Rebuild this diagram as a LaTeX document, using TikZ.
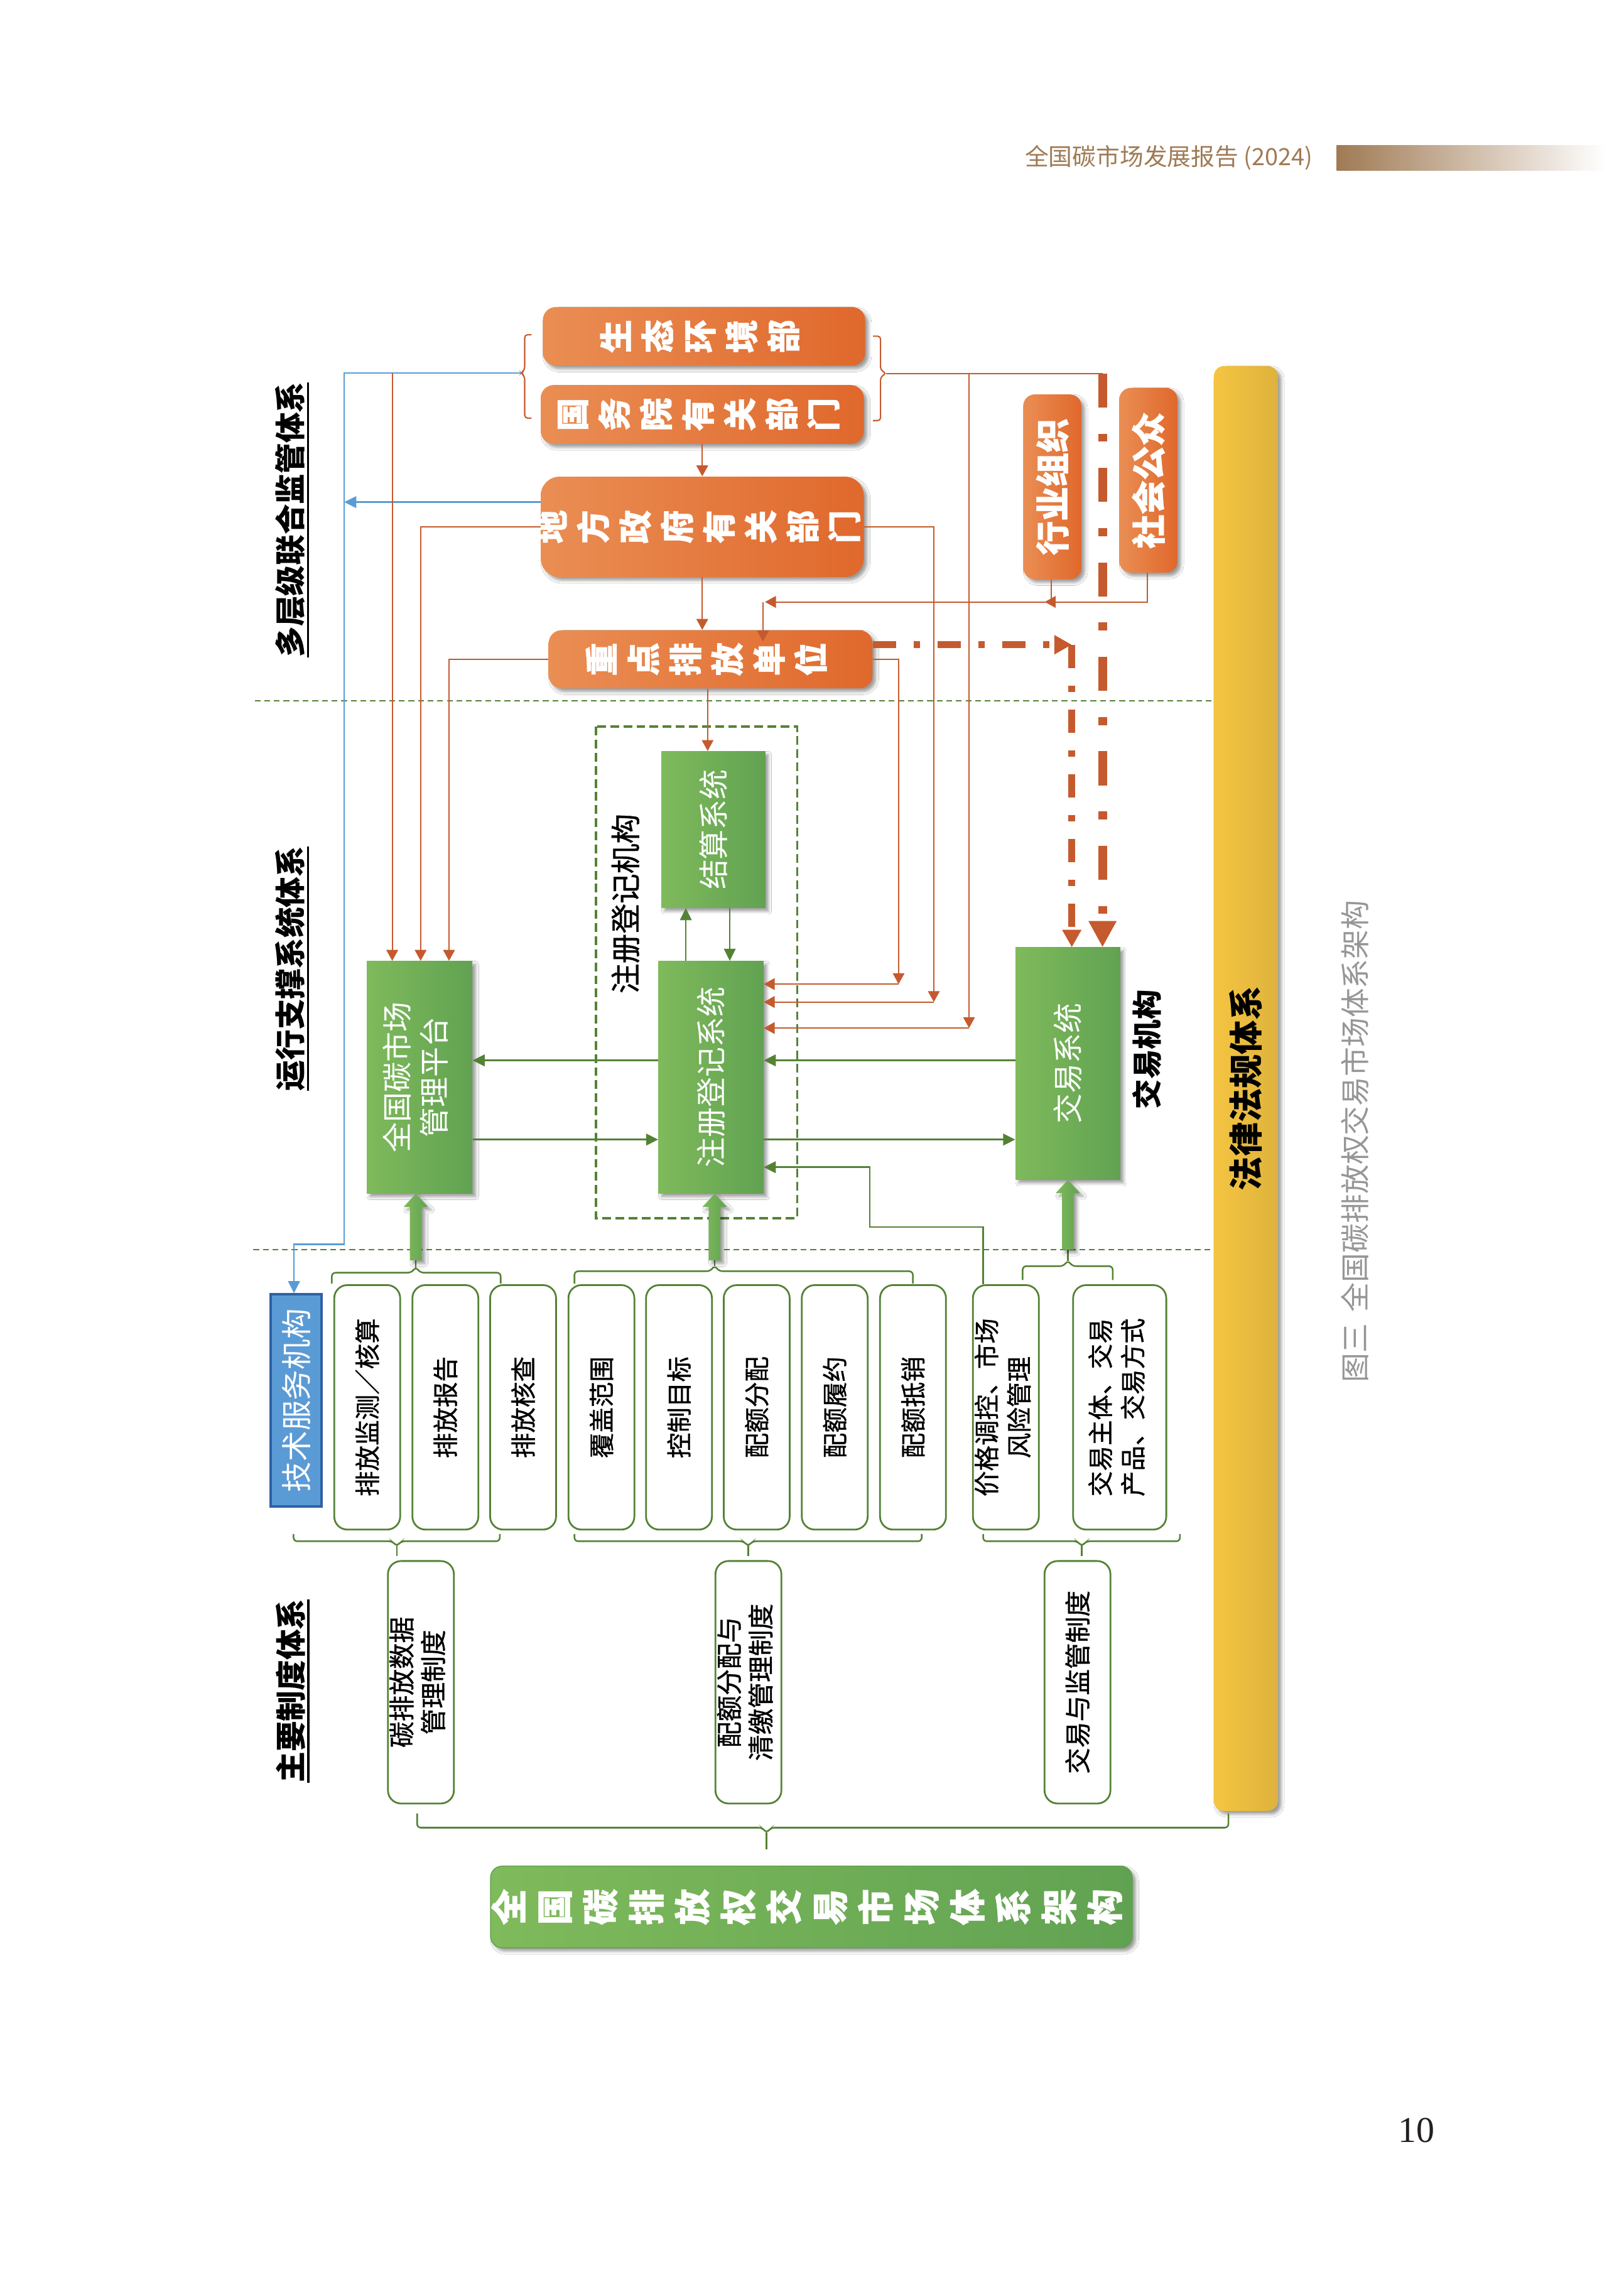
\documentclass[tikz,border=0pt]{standalone}
\usepackage{fontspec}
\usepackage{graphicx}
\newfontfamily\cjk{Noto Sans CJK SC}
\newfontfamily\cjkm[FakeBold=0.9]{Noto Sans CJK SC}
\newfontfamily\cjkh[BoldFeatures={FakeBold=0.8}]{Noto Sans CJK SC}
\newfontfamily\numf{Liberation Serif}
\usetikzlibrary{arrows.meta,shadows.blur,calc}
\definecolor{cOL}{RGB}{234,142,84}
\definecolor{cOD}{RGB}{224,104,44}
\definecolor{cO}{RGB}{197,90,46}
\definecolor{cGL}{RGB}{127,186,91}
\definecolor{cGD}{RGB}{97,162,82}
\definecolor{cG}{RGB}{84,130,53}
\definecolor{cB}{RGB}{91,155,213}
\definecolor{cBD}{RGB}{47,96,165}
\definecolor{cY}{RGB}{245,197,66}
\definecolor{cYD}{RGB}{222,178,60}
\definecolor{cHdr}{RGB}{160,122,84}
\definecolor{cCap}{RGB}{150,150,152}
\definecolor{cPn}{RGB}{35,31,32}
\newcommand\zrot[1]{\makebox[0pt]{\rotatebox{90}{\begin{tabular}{@{}c@{}}#1\end{tabular}}}}
\newcommand\rtab[1]{\rotatebox{90}{\begin{tabular}{@{}c@{}}#1\end{tabular}}}
\newcommand\ulc[1]{\setbox0=\hbox{#1}\rlap{\smash{\rule[-5pt]{\wd0}{1.5pt}}}\box0}
\newcommand\blkup[2]{%
 \path[blk] ($(#1)+(-4,0)$) -- ($(#1 |- #2.south)+(-4,9)$) -- ($(#1 |- #2.south)+(-8.3,9)$) -- (#1 |- #2.south) -- ($(#1 |- #2.south)+(8.3,9)$) -- ($(#1 |- #2.south)+(4,9)$) -- ($(#1)+(4,0)$) -- cycle;}
\tikzset{
 shd/.style={blur shadow={shadow xshift=2.2pt,shadow yshift=-2.2pt,shadow blur radius=2.2pt,shadow opacity=40}},
 obox/.style={shd,rounded corners=9pt,left color=cOL,right color=cOD,inner sep=0pt,text=white,font=\cjkh\bfseries\fontsize{23}{28.75}\selectfont},
 ovbox/.style={obox,rounded corners=8pt,minimum width=40pt,minimum height=127pt,font=\cjkh\bfseries\fontsize{23.5}{26}\selectfont},
 gbox/.style={shd,left color=cGL,right color=cGD,inner sep=0pt,text=white,font=\cjk\fontsize{20.7}{25.3}\selectfont},
 wbox/.style={draw=cG,line width=1.2pt,rounded corners=9pt,fill=white,inner sep=0pt,minimum width=45.3pt,minimum height=168pt,font=\cjkm\fontsize{17.5}{22.3}\selectfont},
 lbox/.style={wbox,minimum height=166.6pt,font=\cjkm\fontsize{18}{21.7}\selectfont},
 oln/.style={draw=cO,line width=0.9pt},
 oar/.style={oln,-{Triangle[length=7.5pt,width=8pt]}},
 gln/.style={draw=cG,line width=1.1pt},
 gar/.style={gln,-{Triangle[length=8.3pt,width=8pt]}},
 bln/.style={draw=cB,line width=1.1pt},
 barw/.style={bln,-{Triangle[length=8.3pt,width=8pt]}},
 brk/.style={draw=cG,line width=1.1pt,rounded corners=2.5pt},
 sepl/.style={draw=cG,line width=1pt,dash pattern=on 4pt off 2.6pt},
 dbox/.style={draw=cG,line width=1.6pt,dash pattern=on 6pt off 3pt},
 ddl/.style={draw=cO,line width=4.5pt,dash pattern=on 16pt off 12pt on 4.5pt off 12pt},
 tdl/.style={draw=cO,line width=6pt,dash pattern=on 23.4pt off 18pt on 5.5pt off 18pt},
 blk/.style={shd,left color=cGL,right color=cGD},
 ttl/.style={font=\cjk\bfseries\fontsize{21}{24}\selectfont,inner sep=0pt,rotate=90},
}
\begin{document}
\begin{tikzpicture}[x=1pt,y=-1pt]
\fill[white] (0,0) rectangle (1115.8,1568);
\useasboundingbox (0,0) rectangle (1115.8,1568);

% header
\node[font=\cjk\fontsize{16.3}{18}\selectfont,text=cHdr,inner sep=0pt,anchor=east] (hdr) at (902,108.3) {全国碳市场发展报告 (2024)};
\shade[left color=cHdr,middle color=cHdr!45,right color=white] (918.3,100) rectangle (1103,117.2);

% separators and dashed group
\draw[sepl] (175,481.5) -- (834,481.5);
\draw[sepl] (174,858.6) -- (834,858.6);
\draw[dbox] (409.5,499.3) rectangle (547.7,837);

% yellow bar
\node[shd,rounded corners=7pt,left color=cY,middle color=cY,right color=cYD,minimum width=44pt,minimum height=992.8pt,inner sep=0pt,font=\cjk\bfseries\fontsize{23.4}{26}\selectfont] (flfg) at (856,747.9) {\rotatebox{90}{法律法规体系}};

% orange boxes
\node[obox,minimum width=221.5pt,minimum height=40.3pt] (eco) at (483.7,231.1) {\zrot{生\\态\\环\\境\\部}};
\node[obox,minimum width=222pt,minimum height=40.5pt] (gwy) at (482.5,284.8) {\zrot{国\\务\\院\\有\\关\\部\\门}};
\node[obox,rounded corners=13pt,minimum width=222pt,minimum height=69pt] (dfzf) at (482.5,362) {\zrot{地\\方\\政\\府\\有\\关\\部\\门}};
\node[obox,minimum width=222.5pt,minimum height=40pt] (zdpf) at (488.2,453) {\zrot{重\\点\\排\\放\\单\\位}};
\node[ovbox] (hyzz) at (723,334.5) {\rotatebox{90}{行业组织}};
\node[ovbox] (shgz) at (789,330) {\rotatebox{90}{社会公众}};

% green boxes
\node[gbox,minimum width=72.5pt,minimum height=159.6pt] (glpt) at (288.3,740.2) {\rtab{全国碳市场\\管理平台}};
\node[gbox,minimum width=71.2pt,minimum height=107.6pt] (jsxt) at (490.1,570) {\rotatebox{90}{结算系统}};
\node[gbox,minimum width=72.1pt,minimum height=159.6pt] (zcxt) at (488.5,740.2) {\rotatebox{90}{注册登记系统}};
\node[gbox,minimum width=71.9pt,minimum height=159.5pt] (jyxt) at (733.7,730.8) {\rotatebox{90}{交易系统}};

% blue box
\node[draw=cBD,line width=1.6pt,fill=cB,minimum width=35pt,minimum height=145.6pt,inner sep=0pt,text=white,font=\cjk\fontsize{21}{24}\selectfont] (jsfw) at (203.5,962.2) {\rotatebox{90}{技术服务机构}};

% white boxes
\node[wbox] (b1) at (252.3,967) {\rotatebox{90}{排放监测／核算}};
\node[wbox] (b2) at (306,967) {\rotatebox{90}{排放报告}};
\node[wbox] (b3) at (359.4,967) {\rotatebox{90}{排放核查}};
\node[wbox] (b4) at (413.2,967) {\rotatebox{90}{覆盖范围}};
\node[wbox] (b5) at (466.5,967) {\rotatebox{90}{控制目标}};
\node[wbox] (b6) at (519.9,967) {\rotatebox{90}{配额分配}};
\node[wbox] (b7) at (573.5,967) {\rotatebox{90}{配额履约}};
\node[wbox] (b8) at (627.3,967) {\rotatebox{90}{配额抵销}};
\node[wbox] (b9) at (691.1,967) {\rtab{价格调控、市场\\风险管理}};
\node[wbox,minimum width=64pt] (b10) at (769.3,967) {\rtab{交易主体、交易\\产品、交易方式}};
\node[lbox] (c1) at (289.2,1155.9) {\rtab{碳排放数据\\管理制度}};
\node[lbox] (c2) at (514.2,1155.9) {\rtab{配额分配与\\清缴管理制度}};
\node[lbox] (c3) at (740.3,1155.9) {\rotatebox{90}{交易与监管制度}};

% title box
\node[shd,draw=cGD,line width=0.6pt,rounded corners=8pt,left color=cGL,right color=cGD,minimum width=441pt,minimum height=56.2pt,inner sep=0pt,text=white,font=\cjkh\bfseries\fontsize{25}{31.5}\selectfont] (ttlbox) at (557.5,1310.3) {\zrot{全\\国\\碳\\排\\放\\权\\交\\易\\市\\场\\体\\系\\架\\构}};

% brackets near top boxes
\draw[oln,rounded corners=2pt] (365.2,230) -- (360.5,230) -- (360.5,254) -- (358,256.3) -- (360.5,258.6) -- (360.5,287.3) -- (365.2,287.3);
\draw[oln,rounded corners=2pt] (599.8,231) -- (605,231) -- (605,254.3) -- (609,256.6) -- (605,258.9) -- (605,289) -- (599.8,289);

% blue connectors
\coordinate (lbm) at (358,256.3);
\coordinate (bA) at (236.5,256.3);
\coordinate (bB) at (236.5,855);
\coordinate (bC) at (202,855);
\draw[barw] (lbm) -- (bA) -- (bB) -- (bC) -- (bC |- jsfw.north);
\coordinate (bD) at (236.5,345);
\draw[barw] (dfzf.west |- bD) -- (bD);

% orange connectors, left side
\coordinate (o1) at (269.5,256.3);
\draw[oar] (o1) -- (o1 |- glpt.north);
\coordinate (o2) at (289,362);
\draw[oar] (dfzf.west) -- (o2) -- (o2 |- glpt.north);
\coordinate (o3) at (308.5,453);
\draw[oar] (zdpf.west) -- (o3) -- (o3 |- glpt.north);

% orange vertical chain
\draw[oar] (gwy.south) -- (dfzf.north);
\draw[oar] (dfzf.south) -- (dfzf.south |- zdpf.north);
\draw[oar] ([xshift=-2pt]zdpf.south) -- ([xshift=-2pt]zdpf.south |- jsxt.north);

% orange connectors, right side
\coordinate (rbm) at (609,256.6);
\coordinate (td0) at (757.5,256.6);
\draw[oln] (rbm) -- (td0);
\coordinate (k1) at (617.4,676.2);
\coordinate (k2) at (641.6,688.5);
\coordinate (k3) at (665.8,706.4);
\draw[oar] (zdpf.east) -- (zdpf.east -| k1) -- (k1);
\draw[oar] (k1) -- (k1 -| zcxt.east);
\draw[oar] (dfzf.east) -- (dfzf.east -| k2) -- (k2);
\draw[oar] (k2) -- (k2 -| zcxt.east);
\draw[oar] (k3 |- rbm) -- (k3);
\draw[oar] (k3) -- (k3 -| zcxt.east);

% public and industry
\coordinate (s1) at (788.4,413.6);
\coordinate (s2) at (525.6,413.6);
\draw[oar] (shgz.south -| s1) -- (s1) -- (s2);
\coordinate (s3) at (524.2,413.6);
\draw[oar] (s3) -- ($(s3 |- zdpf.north)+(0,8)$);
\coordinate (h1) at (722.3,413.6);
\draw[oln] (hyzz.south -| h1) -- (h1);
\draw[oar] ([xshift=3pt]h1) -- ([xshift=-4.5pt]h1);

% thick dashed arrows
\coordinate (dd0) at (736.4,443);
\draw[ddl,-{Triangle[length=12pt,width=12.5pt]}] ([yshift=10pt]zdpf.east) -- (dd0);
\draw[ddl,-{Triangle[length=12pt,width=12.5pt]}] (dd0) -- (dd0 |- jyxt.north);
\draw[tdl,-{Triangle[length=18pt,width=18pt]}] (td0) -- (td0 |- jyxt.north);

% green connectors
\coordinate (gA) at (0,728.6);
\coordinate (gB) at (0,783);
\coordinate (gC) at (597.6,802);
\draw[gar] (zcxt.west |- gA) -- (glpt.east |- gA);
\draw[gar] (glpt.east |- gB) -- (zcxt.west |- gB);
\draw[gar] (jyxt.west |- gA) -- (zcxt.east |- gA);
\draw[gar] (zcxt.east |- gB) -- (jyxt.west |- gB);
\coordinate (p1) at (675.5,843.2);
\coordinate (p2) at (597.6,843.2);
\draw[gar] (b9.north -| p1) -- (p1) -- (p2) -- (gC) -- (zcxt.east |- gC);
\coordinate (u1) at (471.2,0);
\coordinate (u2) at (501.4,0);
\draw[gar] (zcxt.north -| u1) -- (jsxt.south -| u1);
\draw[gar] (jsxt.south -| u2) -- (zcxt.north -| u2);

% green brackets (upper)
\draw[brk] (228,882) -- (228,874.5) -- (282.7,874.5) -- (285.7,870.5) -- (288.7,874.5) -- (344,874.5) -- (344,882);
\draw[gln] (285.7,871) -- (285.7,866);
\draw[brk] (394.7,882) -- (394.7,873.5) -- (488,873.5) -- (491,869.5) -- (494,873.5) -- (627.2,873.5) -- (627.2,882);
\draw[gln] (491,870) -- (491,866);
\draw[brk] (702.6,879.5) -- (702.6,870) -- (730.7,870) -- (733.7,866) -- (736.7,870) -- (764.5,870) -- (764.5,879.5);
\draw[gln] (733.7,866.5) -- (733.7,858.6);
% lower brackets
\draw[brk] (201.7,1054) -- (201.7,1059) -- (269.6,1059) -- (272.6,1062.5) -- (275.6,1059) -- (343.4,1059) -- (343.4,1054);
\draw[gln] (272.6,1062) -- (272.6,1069);
\draw[brk] (394.7,1054) -- (394.7,1059) -- (511,1059) -- (514,1062.5) -- (517,1059) -- (633.3,1059) -- (633.3,1054);
\draw[gln] (514,1062) -- (514,1069);
\draw[brk] (675.5,1054) -- (675.5,1059) -- (740.3,1059) -- (743.3,1062.5) -- (746.3,1059) -- (810.7,1059) -- (810.7,1054);
\draw[gln] (743.3,1062) -- (743.3,1069);
\draw[brk] (286.6,1246) -- (286.6,1255.8) -- (523.7,1255.8) -- (526.7,1259.5) -- (529.7,1255.8) -- (844,1255.8) -- (844,1246);
\draw[gln] (526.7,1259) -- (526.7,1270.7);

% block arrows
\coordinate (ar1) at (285.7,866);
\coordinate (ar2) at (491,866);
\coordinate (ar3) at (733.7,858.6);
\blkup{ar1}{glpt}
\blkup{ar2}{zcxt}
\blkup{ar3}{jyxt}

% texts
\node[ttl] (t1) at (199.5,357.1) {\ulc{多层级联合监管体系}};
\node[ttl] (t2) at (199.5,665.6) {\ulc{运行支撑系统体系}};
\node[ttl] (t3) at (199.5,1161.8) {\ulc{主要制度体系}};
\node[font=\cjkm\fontsize{20.6}{24}\selectfont,rotate=90,inner sep=0pt] (zcjg) at (429.7,620.9) {注册登记机构};
\node[font=\cjk\bfseries\fontsize{20.5}{24}\selectfont,rotate=90,inner sep=0pt] (jyjg) at (788,721) {交易机构};
\node[font=\cjk\fontsize{20.2}{22}\selectfont,text=cCap,rotate=90,inner sep=0pt] (cap) at (931,784.2) {图三\hspace{0.4em}全国碳排放权交易市场体系架构};
\node[font=\numf\fontsize{25}{30}\selectfont,text=cPn,inner sep=0pt] (pnum) at (973,1463.7) {10};
\end{tikzpicture}
\end{document}
